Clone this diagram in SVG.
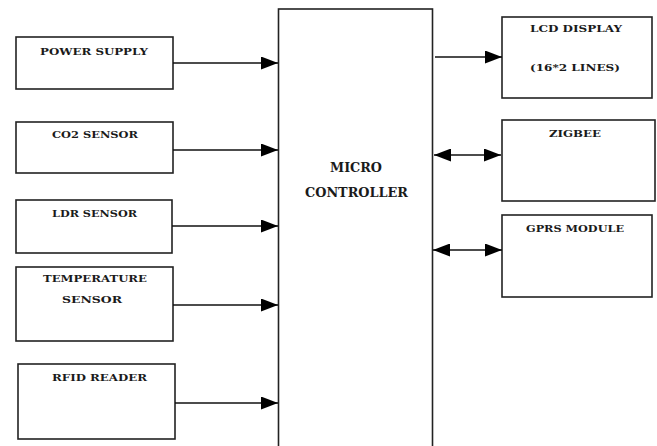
<svg xmlns="http://www.w3.org/2000/svg" width="657" height="446" viewBox="0 0 657 446">
<style>
.box{fill:#fff;stroke:#222;stroke-width:1.6}
.lbl{font-family:"DejaVu Serif","Liberation Serif",serif;font-weight:bold;font-size:9.5px;fill:#1a1a1a}
.big{font-family:"DejaVu Serif","Liberation Serif",serif;font-weight:bold;font-size:13px;fill:#1a1a1a}
.con{stroke:#111;stroke-width:1.6;fill:none}
</style>
<defs>
<marker id="ah" markerUnits="userSpaceOnUse" markerWidth="17" markerHeight="13" refX="17" refY="6.5" orient="auto-start-reverse">
<path d="M0,0 L17,6.5 L0,13 z" fill="#000"/>
</marker>
</defs>
<rect width="657" height="446" fill="#fff"/>
<g id="power"><rect class="box" x="16" y="37" width="157" height="52"/><text class="lbl" x="40" y="55" textLength="108" lengthAdjust="spacingAndGlyphs">POWER SUPPLY</text></g>
<g id="co2"><rect class="box" x="16" y="122" width="157" height="51"/><text class="lbl" x="52" y="138" textLength="86" lengthAdjust="spacingAndGlyphs">CO2 SENSOR</text></g>
<g id="ldr"><rect class="box" x="16" y="200" width="156" height="53"/><text class="lbl" x="52" y="217" textLength="85" lengthAdjust="spacingAndGlyphs">LDR SENSOR</text></g>
<g id="temp"><rect class="box" x="16" y="267" width="157" height="74"/><text class="lbl" x="43" y="282" textLength="104" lengthAdjust="spacingAndGlyphs">TEMPERATURE</text><text class="lbl" x="62" y="303" textLength="60" lengthAdjust="spacingAndGlyphs">SENSOR</text></g>
<g id="rfid"><rect class="box" x="18" y="364" width="157" height="75"/><text class="lbl" x="52" y="381" textLength="95" lengthAdjust="spacingAndGlyphs">RFID READER</text></g>
<g id="mcu"><rect class="box" x="278.5" y="9" width="154" height="445"/><text class="big" x="330" y="172" textLength="52" lengthAdjust="spacingAndGlyphs">MICRO</text><text class="big" x="305" y="197" textLength="103" lengthAdjust="spacingAndGlyphs">CONTROLLER</text></g>
<g id="lcd"><rect class="box" x="502" y="17" width="150" height="81"/><text class="lbl" x="530" y="32" textLength="92" lengthAdjust="spacingAndGlyphs">LCD DISPLAY</text><text class="lbl" x="530" y="71" textLength="90" lengthAdjust="spacingAndGlyphs">(16*2 LINES)</text></g>
<g id="zigbee"><rect class="box" x="502" y="120" width="153" height="81"/><text class="lbl" x="549" y="137" textLength="52" lengthAdjust="spacingAndGlyphs">ZIGBEE</text></g>
<g id="gprs"><rect class="box" x="502" y="215" width="150" height="82"/><text class="lbl" x="526" y="232" textLength="98" lengthAdjust="spacingAndGlyphs">GPRS MODULE</text></g>
<g id="connectors">
<line class="con" x1="173" y1="63" x2="278" y2="63" marker-end="url(#ah)"/>
<line class="con" x1="173" y1="150" x2="278" y2="150" marker-end="url(#ah)"/>
<line class="con" x1="172" y1="226" x2="278" y2="226" marker-end="url(#ah)"/>
<line class="con" x1="173" y1="305" x2="278" y2="305" marker-end="url(#ah)"/>
<line class="con" x1="175" y1="403" x2="278" y2="403" marker-end="url(#ah)"/>
<line class="con" x1="435" y1="57" x2="502" y2="57" marker-end="url(#ah)"/>
<line class="con" x1="434" y1="155" x2="501" y2="155" marker-start="url(#ah)" marker-end="url(#ah)"/>
<line class="con" x1="433" y1="250" x2="502" y2="250" marker-start="url(#ah)" marker-end="url(#ah)"/>
</g>
</svg>
